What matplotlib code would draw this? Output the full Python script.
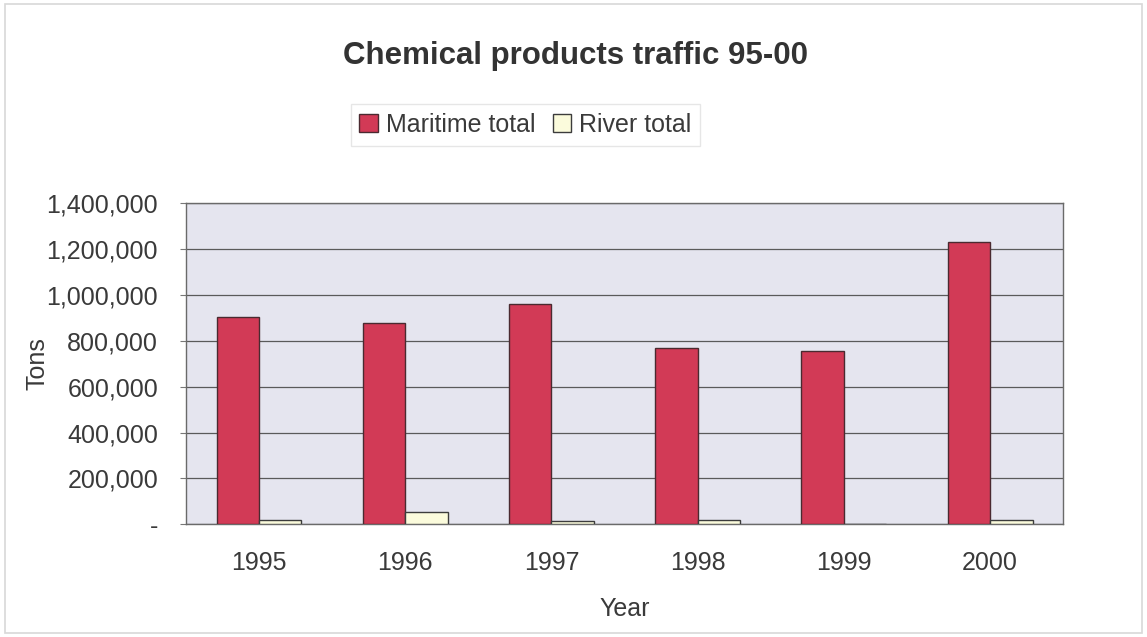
import matplotlib
matplotlib.use("Agg")
import matplotlib.pyplot as plt
from matplotlib.ticker import FuncFormatter
from matplotlib.patches import Rectangle
import numpy as np

years = ["1995", "1996", "1997", "1998", "1999", "2000"]
maritime = [905000, 878000, 962000, 770000, 757000, 1230000]
river = [20000, 52000, 14000, 20000, 2000, 19000]
yticks = [0, 200000, 400000, 600000, 800000, 1000000, 1200000, 1400000]

plt.rcParams['font.family'] = ['Liberation Sans', 'DejaVu Sans']
text_col = "#3a3a3a"

fig = plt.figure(figsize=(11.47, 6.37), dpi=100)
fig.patch.set_facecolor("white")
fig.patches.append(Rectangle((0.004, 0.006), 0.992, 0.988, transform=fig.transFigure,
                             fill=False, edgecolor="#d8d8d8", linewidth=1.2))

ax = fig.add_axes([0.162, 0.177, 0.765, 0.504])
ax.set_facecolor("#e5e5ef")

x = np.arange(len(years))
w = 0.29
ax.bar(x - w / 2, maritime, w, color="#d23a56", edgecolor="#4a2a30", linewidth=1.0,
       label="Maritime total", zorder=3)
ax.bar(x + w / 2, river, w, color="#fbfbdc", edgecolor="#3c3c3c", linewidth=1.0,
       label="River total", zorder=3)

ax.set_xlim(-0.5, len(years) - 0.5)
ax.set_ylim(0, 1400000)
ax.set_yticks(yticks)
ax.yaxis.set_major_formatter(FuncFormatter(lambda v, p: "-" if v == 0 else f"{int(v):,}"))
ax.set_xticks(x)
ax.set_xticklabels(years)
ax.tick_params(axis="x", length=0, pad=19, labelsize=18, labelcolor=text_col)
ax.tick_params(axis="y", length=4, pad=16, labelsize=18, labelcolor=text_col, color="#777777")
ax.grid(axis="y", color="#5a5a5a", linewidth=0.9, zorder=1)
for s in ax.spines.values():
    s.set_color("#6a6a6a")
    s.set_linewidth(1.0)

ax.set_xlabel("Year", fontsize=18, color=text_col, labelpad=16)
ax.set_ylabel("Tons", fontsize=18, color=text_col, labelpad=-2)

fig.text(0.502, 0.912, "Chemical products traffic 95-00", ha="center", va="center",
         fontsize=22.5, fontweight="bold", color="#333333")

leg = fig.legend(loc="center", bbox_to_anchor=(0.458, 0.804), ncol=2, fontsize=18,
                 frameon=True, handlelength=0.75, handleheight=0.75, handletextpad=0.3,
                 columnspacing=0.7, borderpad=0.35, fancybox=False)
leg.get_frame().set_edgecolor("#e0e0e0")
leg.get_frame().set_linewidth(1.0)
for t in leg.get_texts():
    t.set_color(text_col)

fig.savefig("out.png", dpi=100, facecolor="white")
